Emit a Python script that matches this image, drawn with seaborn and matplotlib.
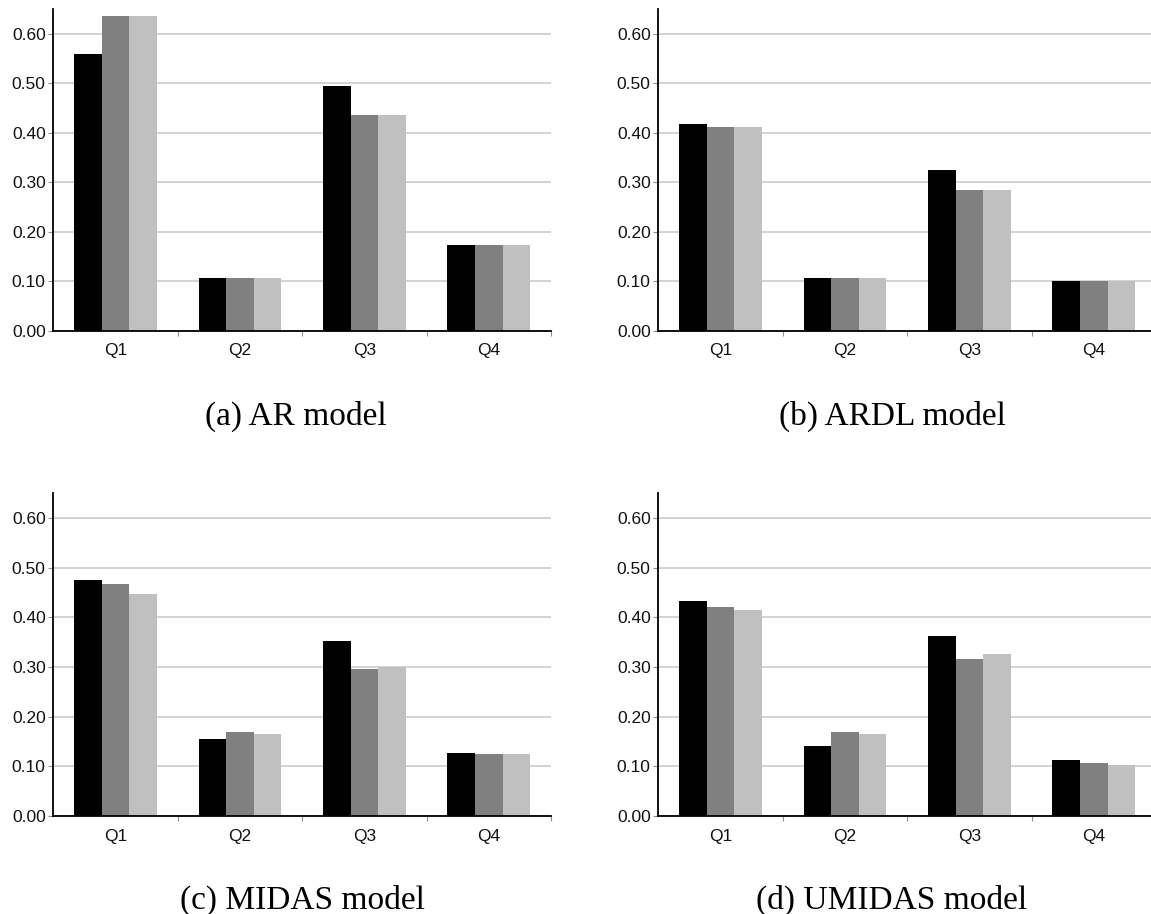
import numpy as np
import pandas as pd
import seaborn as sns
import matplotlib.pyplot as plt
from matplotlib.ticker import FixedLocator, FormatStrFormatter

# ===================== data =====================
quarters = ["Q1", "Q2", "Q3", "Q4"]
series_names = ["s1", "s2", "s3"]

ar_s1 = [0.560, 0.106, 0.495, 0.173]
ar_s2 = [0.637, 0.106, 0.437, 0.173]
ar_s3 = [0.637, 0.106, 0.437, 0.173]

ardl_s1 = [0.418, 0.106, 0.325, 0.100]
ardl_s2 = [0.411, 0.106, 0.284, 0.100]
ardl_s3 = [0.411, 0.106, 0.284, 0.100]

midas_s1 = [0.476, 0.155, 0.353, 0.126]
midas_s2 = [0.467, 0.169, 0.296, 0.124]
midas_s3 = [0.447, 0.166, 0.300, 0.124]

umidas_s1 = [0.433, 0.140, 0.363, 0.112]
umidas_s2 = [0.421, 0.169, 0.316, 0.107]
umidas_s3 = [0.415, 0.165, 0.326, 0.103]

captions = ["(a) AR model", "(b) ARDL model", "(c) MIDAS model", "(d) UMIDAS model"]
yticks = [0.0, 0.1, 0.2, 0.3, 0.4, 0.5, 0.6]

models = [
    (ar_s1, ar_s2, ar_s3),
    (ardl_s1, ardl_s2, ardl_s3),
    (midas_s1, midas_s2, midas_s3),
    (umidas_s1, umidas_s2, umidas_s3),
]

# ===================== style =====================
sns.set_style("white")
plt.rcParams["font.family"] = ["Liberation Sans", "DejaVu Sans"]

W, H = 1151, 914
fig = plt.figure(figsize=(W / 100, H / 100), dpi=100)

# axes boxes in pixels: left, top, right, bottom
boxes = [
    (53.3, 9.1, 551.0, 330.8),
    (658.3, 9.1, 1156.0, 330.8),
    (53.3, 493.3, 551.0, 816.0),
    (658.3, 493.3, 1156.0, 816.0),
]
cap_pos = [(296, 416), (892, 416), (302, 900), (892, 900)]

palette = ["#000000", "#808080", "#c0c0c0"]

for i, (vals, box, cap) in enumerate(zip(models, boxes, captions)):
    l, t, r, b = box
    ax = fig.add_axes([l / W, (H - b) / H, (r - l) / W, (b - t) / H])

    rows = []
    for name, v in zip(series_names, vals):
        for q, y in zip(quarters, v):
            rows.append({"quarter": q, "series": name, "value": y})
    df = pd.DataFrame(rows)

    sns.barplot(data=df, x="quarter", y="value", hue="series", palette=palette,
                width=0.664, saturation=1, legend=False, ax=ax, linewidth=0)

    ax.set_xlim(-0.5, 3.5)
    ax.set_ylim(0, 0.65)
    ax.set_xlabel("")
    ax.set_ylabel("")
    ax.set_yticks(yticks)
    ax.yaxis.set_major_formatter(FormatStrFormatter("%.2f"))
    ax.set_axisbelow(True)
    ax.yaxis.grid(True, color="#c8c8c8", linewidth=1.1)
    ax.xaxis.grid(False)

    for s in ["top", "right"]:
        ax.spines[s].set_visible(False)
    for s in ["left", "bottom"]:
        ax.spines[s].set_color("black")
        ax.spines[s].set_linewidth(1.3)

    ax.tick_params(axis="y", which="major", left=True, length=3.5, width=0.8,
                   color="#909090", pad=2, labelsize=12.5, labelcolor="#111111")
    ax.tick_params(axis="x", which="major", bottom=False, length=0, pad=9,
                   labelsize=12.5, labelcolor="#111111")
    ax.xaxis.set_minor_locator(FixedLocator([0.5, 1.5, 2.5, 3.5]))
    ax.tick_params(axis="x", which="minor", bottom=True, length=3.5, width=0.8,
                   color="#909090")

    cx, cy = cap_pos[i]
    fig.text(cx / W, (H - cy) / H, cap, ha="center", va="center", color="black",
             family=["Liberation Serif", "DejaVu Serif"], fontsize=24)

plt.savefig("out.png", dpi=100)
plt.close()
